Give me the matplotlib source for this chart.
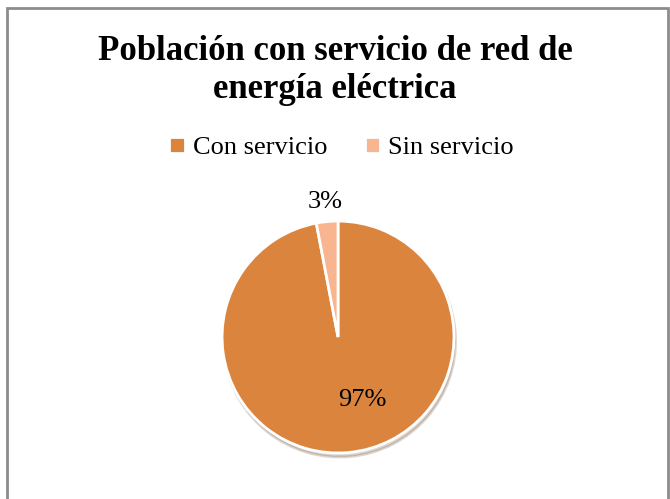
import numpy as np
import matplotlib
matplotlib.use("Agg")
import matplotlib.pyplot as plt
from matplotlib.patches import Rectangle

categorias = ["Con servicio", "Sin servicio"]
valores = [97, 3]
colores = ["#DB843D", "#F9B58F"]
titulo = "Población con servicio de red de\nenergía eléctrica"

plt.rcParams["font.family"] = ["Liberation Serif", "DejaVu Serif"]

fig = plt.figure(figsize=(6.7, 4.99), dpi=100)

# marco gris del grafico
fig.patches.append(Rectangle((7 / 670, -0.05), 661 / 670, 1 - 8 / 499 + 0.05,
                             transform=fig.transFigure, fill=False,
                             edgecolor="#8c8c8c", linewidth=2))

ax = fig.add_axes([0.2795, 0.0224, 0.450, 0.6044])
wedges, texts, autotexts = ax.pie(
    valores, colors=colores, startangle=90, counterclock=False,
    autopct=lambda p: "%d%%" % round(p), pctdistance=0.6,
    wedgeprops=dict(edgecolor="white", linewidth=2),
    shadow=dict(ox=0.01, oy=-0.025, shade=0.6, alpha=0.2),
    textprops=dict(fontsize=19, color="black"))
ax.set_xlim(-1.3, 1.3)
ax.set_ylim(-1.3, 1.3)
ax.set_aspect("equal")

# etiquetas colocadas como en Excel
ang = np.deg2rad(-69)
autotexts[0].set_position((0.58 * np.cos(ang), 0.58 * np.sin(ang)))
w = wedges[1]
ang = np.deg2rad((w.theta1 + w.theta2) / 2)
autotexts[1].set_position((1.17 * np.cos(ang), 1.17 * np.sin(ang)))

fig.text(0.5, 1 - 71 / 499, titulo, ha="center", va="center",
         fontsize=25, fontweight="bold", linespacing=1.2)

leg = fig.legend(wedges, categorias, loc="center", bbox_to_anchor=(0.51, 1 - 148 / 499),
                 ncol=2, frameon=False, fontsize=19, handlelength=0.6, handleheight=0.6,
                 handletextpad=0.3, columnspacing=1.4)

fig.savefig("out.png", dpi=100, facecolor="white")
